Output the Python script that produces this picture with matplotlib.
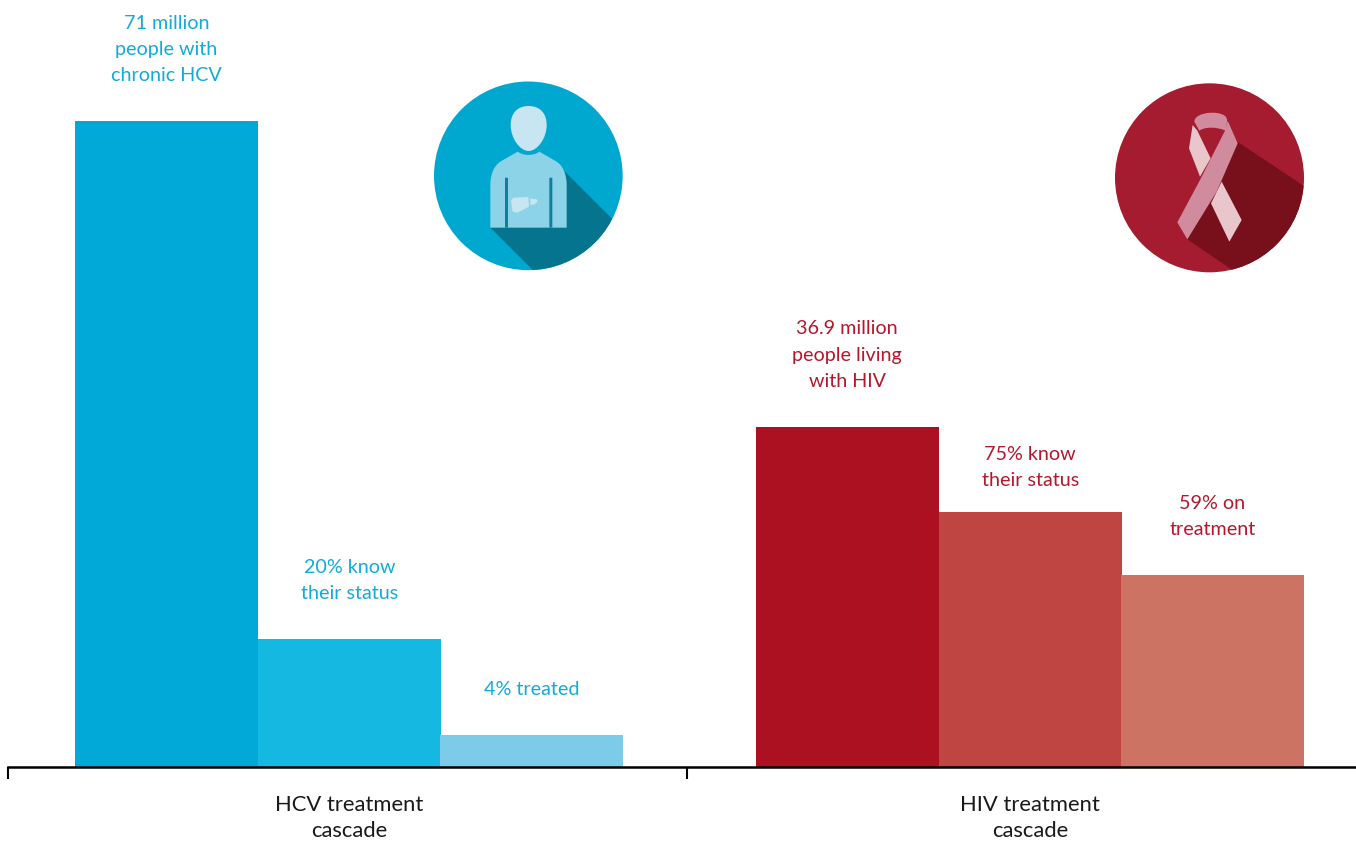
import matplotlib
matplotlib.use('Agg')
import matplotlib.pyplot as plt
from matplotlib.patches import Ellipse, Polygon, PathPatch, FancyBboxPatch
from matplotlib.path import Path

plt.rcParams['font.family'] = ['Lato', 'DejaVu Sans']

# bar values in million people
positions = [0, 1, 1.995, 3.72, 4.72, 5.715]
values = [71, 14.1, 3.5, 37.4, 28.0, 21.1]
colors = ['#00A9D8', '#14B8E0', '#7BCBE9', '#AB1120', '#BE4541', '#CC7364']
labels = ['71 million\npeople with\nchronic HCV', '20% know\ntheir status', '4% treated',
          '36.9 million\npeople living\nwith HIV', '75% know\ntheir status', '59% on\ntreatment']
label_colors = ['#12ABDB'] * 3 + ['#B5182C'] * 3
label_offsets = [37, 37, 37, 37, 23, 37]

group_edges = [-0.865, 2.845, 6.5]
group_centers = [1, 4.72]
group_labels = ['HCV treatment\ncascade', 'HIV treatment\ncascade']

W, H = 1356, 841
fig = plt.figure(figsize=(W / 100, H / 100), dpi=100)

base = 767
ax = fig.add_axes([0, (H - base) / H, 1, base / H])
ax.bar(positions, values, width=1, color=colors, linewidth=0)
ax.set_xlim(-166.5 / 183, (W - 166.5) / 183)
ax.set_ylim(0, base / 9.1)

for x, v, t, c, off in zip(positions, values, labels, label_colors, label_offsets):
    ax.annotate(t, (x, v), xytext=(0, off), textcoords='offset pixels', ha='center', va='bottom',
                color=c, fontsize=14.2, linespacing=1.65)

for s in ['top', 'left', 'right']:
    ax.spines[s].set_visible(False)
ax.spines['bottom'].set_linewidth(1.8)
ax.spines['bottom'].set_bounds(group_edges[0], group_edges[2])
ax.set_yticks([])
ax.set_xticks(group_edges[:2])
ax.set_xticklabels([])
ax.tick_params(axis='x', which='major', length=8.5, width=1.5, color='black')
ax.set_xticks(group_centers, minor=True)
ax.set_xticklabels(group_labels, minor=True, fontsize=15.8, color='#1a1a1a', linespacing=1.36)
ax.tick_params(axis='x', which='minor', length=0, pad=20.5)


def icon_axes(x, y):
    # icon coordinates are pixels of the 3x crop around the icon
    a = fig.add_axes([x / W, 1 - (y + 210) / H, 220 / W, 210 / H])
    a.set_xlim(0, 660)
    a.set_ylim(630, 0)
    a.axis('off')
    return a


# HCV icon
a1 = icon_axes(420, 70)
circle = Ellipse((325, 317.5), 566, 566, color='#00A8CF', lw=0)
a1.add_patch(circle)
shadow = Polygon([(425, 295), (640, 510), (640, 640), (378, 640), (211, 473)], color='#05758F', lw=0)
a1.add_patch(shadow)
shadow.set_clip_path(circle)
body = Path([(293, 245), (310, 258), (342, 258), (358, 245), (405, 272), (405, 272), (430, 285), (440, 315),
             (440, 345), (440, 473), (211, 473), (211, 345), (211, 315), (221, 285), (246, 272), (293, 245)],
            [Path.MOVETO, Path.CURVE4, Path.CURVE4, Path.CURVE4, Path.LINETO, Path.LINETO, Path.CURVE4, Path.CURVE4,
             Path.CURVE4, Path.LINETO, Path.LINETO, Path.LINETO, Path.CURVE4, Path.CURVE4, Path.CURVE4, Path.LINETO])
a1.add_patch(PathPatch(body, color='#8DD3E7', lw=0))
head = Path([(326, 108), (360, 108), (380, 130), (380, 165), (380, 205), (352, 243), (326, 243),
             (300, 243), (272, 205), (272, 165), (272, 130), (292, 108), (326, 108)],
            [Path.MOVETO] + [Path.CURVE4] * 12)
a1.add_patch(PathPatch(head, color='#C7E6F2', lw=0))
for sx in [255, 388]:
    a1.add_patch(FancyBboxPatch((sx + 2, 325), 5, 146, boxstyle='round,pad=2', color='#0E7F9C', lw=0))
a1.add_patch(Polygon([(273, 392), (280, 383), (325, 381), (327, 410), (292, 428), (278, 425)], color='#C7E6F2', lw=0))
a1.add_patch(Polygon([(331, 385), (350, 388), (353, 394), (344, 403), (331, 405)], color='#C7E6F2', lw=0))

# HIV icon
a2 = icon_axes(1100, 70)
circle2 = Ellipse((328.5, 323.5), 567, 567, color='#A51B2F', lw=0)
a2.add_patch(circle2)
shadow2 = Polygon([(412, 215), (660, 380), (660, 660), (485, 660), (262, 508)], color='#77101B', lw=0)
a2.add_patch(shadow2)
shadow2.set_clip_path(circle2)
a2.add_patch(Polygon([(278, 165), (267, 235), (300, 320), (332, 265), (292, 182)], color='#E9C6CC', lw=0))
a2.add_patch(Polygon([(365, 335), (425, 450), (388, 515), (333, 400)], color='#E9C6CC', lw=0))
loop = Path([(283, 155), (283, 122), (381, 118), (381, 150), (381, 160), (380, 170), (377, 182),
             (350, 170), (315, 170), (298, 182), (283, 155)],
            [Path.MOVETO, Path.CURVE4, Path.CURVE4, Path.CURVE4, Path.CURVE4, Path.CURVE4, Path.CURVE4,
             Path.CURVE4, Path.CURVE4, Path.CURVE4, Path.LINETO])
a2.add_patch(PathPatch(loop, color='#D08C9E', lw=0))
a2.add_patch(Polygon([(232, 457), (262, 508), (350, 365), (413, 220), (383, 152), (375, 182), (300, 330)],
                     color='#D08C9E', lw=0))

fig.savefig('out.png', dpi=100)
